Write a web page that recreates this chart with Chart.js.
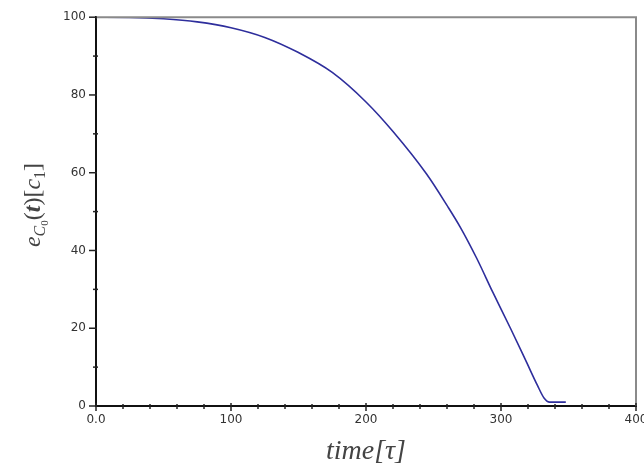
<!DOCTYPE html>
<html>
<head>
<meta charset="utf-8">
<script src="https://cdn.jsdelivr.net/npm/chart.js@4.4.1/dist/chart.umd.min.js"></script>
<style>
  html, body { margin: 0; padding: 0; background: #fff; }
  #wrap { width: 644px; height: 468px; }
</style>
</head>
<body>
<div id="wrap"><canvas id="c"></canvas></div>
<script>
// time values (tau) and concentration
var times = [0, 25, 50, 75, 100, 125, 150, 175, 200, 220, 245, 260, 270, 282, 294, 307, 319, 327, 332, 336, 348];
var conc  = [100, 99.95, 99.6, 98.8, 97.3, 94.8, 90.9, 85.8, 78.2, 70.6, 59.6, 51.6, 45.9, 38, 29.2, 20, 11.2, 5.3, 2, 1, 1];

var xTicks = [0, 100, 200, 300, 400];
var yTicks = [0, 20, 40, 60, 80, 100];

var points = [];
for (var i = 0; i < times.length; i++) {
  points.push({ x: times[i], y: conc[i] });
}

// frame: grey top/right lines, minor + major tick marks, y title with subscripts
var framePlugin = {
  id: 'frame',
  afterDraw: function (chart) {
    var ctx = chart.ctx, a = chart.chartArea;
    var xs = chart.scales.x, ys = chart.scales.y;
    ctx.save();
    ctx.strokeStyle = '#8a8a8a';
    ctx.lineWidth = 2;
    ctx.beginPath();
    ctx.moveTo(a.left, a.top);
    ctx.lineTo(a.right, a.top);
    ctx.lineTo(a.right, a.bottom);
    ctx.stroke();

    ctx.strokeStyle = '#222';
    ctx.lineWidth = 1.5;
    for (var v = 0; v <= 400; v += 20) {
      var px = xs.getPixelForValue(v);
      var major = v % 100 === 0;
      ctx.beginPath();
      ctx.moveTo(px, a.bottom - (major ? 3 : 2));
      ctx.lineTo(px, a.bottom + (major ? 5 : 3));
      ctx.stroke();
    }
    for (var w = 0; w <= 100; w += 10) {
      var py = ys.getPixelForValue(w);
      var maj = w % 20 === 0;
      ctx.beginPath();
      ctx.moveTo(a.left - (maj ? 7 : 3), py);
      ctx.lineTo(a.left + (maj ? 1 : 2), py);
      ctx.stroke();
    }

    // y title e_{C0}(t)[c1]
    var parts = [
      { t: 'e', f: 'italic 24px "Liberation Serif", serif', dy: 0 },
      { t: 'C', f: 'italic 16px "Liberation Serif", serif', dy: 5 },
      { t: '0', f: '11px "Liberation Serif", serif', dy: 8 },
      { t: '(', f: '24px "Liberation Serif", serif', dy: 0 },
      { t: 't', f: 'italic bold 24px "Liberation Serif", serif', dy: 0 },
      { t: ')[', f: '24px "Liberation Serif", serif', dy: 0 },
      { t: 'c', f: 'italic 24px "Liberation Serif", serif', dy: 0 },
      { t: '1', f: '16px "Liberation Serif", serif', dy: 5 },
      { t: ']', f: '24px "Liberation Serif", serif', dy: 0 }
    ];
    var total = 0;
    parts.forEach(function (p) { ctx.font = p.f; p.w = ctx.measureText(p.t).width; total += p.w; });
    ctx.translate(40, 205);
    ctx.rotate(-Math.PI / 2);
    ctx.fillStyle = '#444';
    ctx.textBaseline = 'alphabetic';
    var cx = -total / 2;
    parts.forEach(function (p) {
      ctx.font = p.f;
      ctx.fillText(p.t, cx, p.dy);
      cx += p.w;
    });
    ctx.restore();
  }
};

window.onload = function () {
  new Chart(document.getElementById('c'), {
    type: 'line',
    data: {
      datasets: [{
        data: points,
        borderColor: '#2e2e9c',
        borderWidth: 1.6,
        pointRadius: 0,
        cubicInterpolationMode: 'monotone',
        fill: false
      }]
    },
    options: {
      responsive: true,
      maintainAspectRatio: false,
      animation: false,
      layout: { padding: { top: 14, right: 8, left: 0, bottom: 0 } },
      plugins: { legend: { display: false }, tooltip: { enabled: false } },
      scales: {
        x: {
          type: 'linear',
          min: 0, max: 400,
          afterBuildTicks: function (s) { s.ticks = xTicks.map(function (v) { return { value: v }; }); },
          afterFit: function (s) { s.height = 62; s.paddingRight = 0; s.paddingLeft = 0; },
          grid: { display: false, drawTicks: false },
          border: { display: true, color: '#111', width: 2 },
          ticks: {
            padding: 7,
            color: '#333',
            font: { family: 'DejaVu Sans', size: 12 },
            maxRotation: 0,
            callback: function (v) { return v === 0 ? '0.0' : String(v); }
          },
          title: {
            display: true,
            text: 'time[τ]',
            color: '#444',
            font: { family: 'Liberation Serif', style: 'italic', size: 28 },
            padding: { top: 0, bottom: 0 }
          }
        },
        y: {
          min: 0, max: 100,
          afterBuildTicks: function (s) { s.ticks = yTicks.map(function (v) { return { value: v }; }); },
          afterFit: function (s) { s.width = 96; },
          grid: { display: false, drawTicks: false },
          border: { display: true, color: '#111', width: 2 },
          ticks: {
            padding: 10,
            color: '#333',
            font: { family: 'DejaVu Sans', size: 12 }
          }
        }
      }
    },
    plugins: [framePlugin]
  });
};
</script>
</body>
</html>
